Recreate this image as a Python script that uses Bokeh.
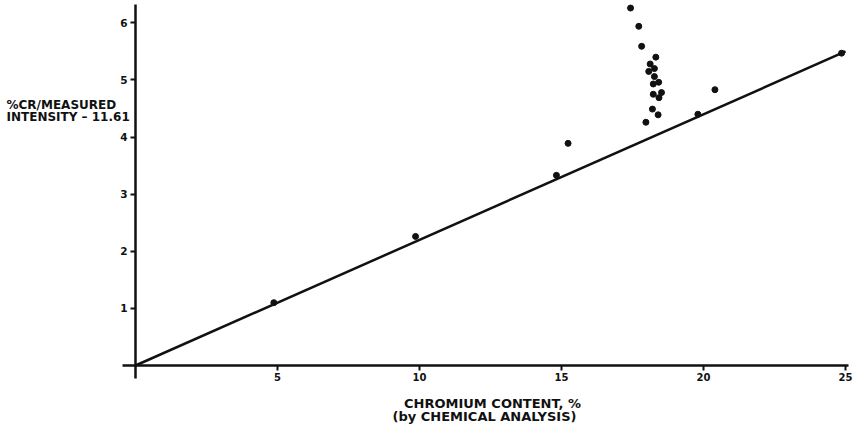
from bokeh.plotting import figure
from bokeh.models import FixedTicker, Range1d, Label
from bokeh.embed import file_html
from bokeh.resources import INLINE

# ---- data ----
cr_content = [4.87, 9.86, 14.82, 15.23, 17.43, 17.72, 17.82, 18.32, 18.12, 18.27,
              18.07, 18.27, 18.42, 18.23, 18.52, 18.23, 18.43, 18.20, 18.40, 17.97,
              19.80, 20.40, 24.86]
cr_ratio = [1.10, 2.26, 3.33, 3.89, 6.26, 5.94, 5.59, 5.40, 5.28, 5.20,
            5.15, 5.06, 4.96, 4.93, 4.78, 4.75, 4.69, 4.49, 4.39, 4.26,
            4.40, 4.83, 5.47]
fit_x = [0, 25]
fit_y = [0, 5.5]
x_ticks = [5, 10, 15, 20, 25]
y_ticks = [1, 2, 3, 4, 5, 6]
y_title = ["%CR/MEASURED", "INTENSITY \u2013 11.61"]
x_title = ["CHROMIUM CONTENT, %", "(by CHEMICAL ANALYSIS)"]

FONT = "DejaVu Sans"
INK = "#111111"
W, H = 855, 429

p = figure(width=W, height=H, output_backend="svg", toolbar_location=None,
           x_range=Range1d(-4.754, 25.35), y_range=Range1d(-1.121, 6.392))
p.min_border = 0
p.min_border_left = 0
p.min_border_right = 0
p.min_border_top = 0
p.min_border_bottom = 0
p.outline_line_color = None
p.background_fill_color = "white"
p.border_fill_color = "white"
p.grid.visible = False

for ax in (p.xaxis[0], p.yaxis[0]):
    ax.fixed_location = 0
    ax.axis_line_width = 2.5
    ax.axis_line_color = INK
    ax.major_tick_line_width = 2
    ax.major_tick_line_color = INK
    ax.major_tick_in = 0
    ax.major_tick_out = 5
    ax.minor_tick_line_color = None
    ax.major_label_text_font = FONT
    ax.major_label_text_font_style = "bold"
    ax.major_label_text_color = INK
    ax.major_label_standoff = 3

p.xaxis[0].bounds = (-0.46, 25.1)
p.yaxis[0].bounds = (-0.23, 6.33)
p.xaxis[0].major_label_text_font_size = "10px"
p.yaxis[0].major_label_text_font_size = "10.5px"
p.xaxis[0].ticker = FixedTicker(ticks=x_ticks)
p.yaxis[0].ticker = FixedTicker(ticks=y_ticks)

p.line(fit_x, fit_y, line_width=2.5, line_color=INK)
p.scatter(cr_content, cr_ratio, size=6, fill_color=INK, line_color=INK)

# axis titles (screen units: x from left, y up from bottom of the frame = canvas)
for txt, yy in zip(y_title, [H - 104, H - 116]):
    p.add_layout(Label(x=6, y=yy, x_units="screen", y_units="screen", text=txt,
                       text_font=FONT, text_font_style="bold", text_font_size="12px",
                       text_color=INK, text_align="left", text_baseline="middle"))
for txt, xx, yy in zip(x_title, [492, 484], [H - 402.5, H - 416]):
    p.add_layout(Label(x=xx, y=yy, x_units="screen", y_units="screen", text=txt,
                       text_font=FONT, text_font_style="bold", text_font_size="13px",
                       text_color=INK, text_align="center", text_baseline="middle"))

open("out.html", "w").write(file_html(p, INLINE))
